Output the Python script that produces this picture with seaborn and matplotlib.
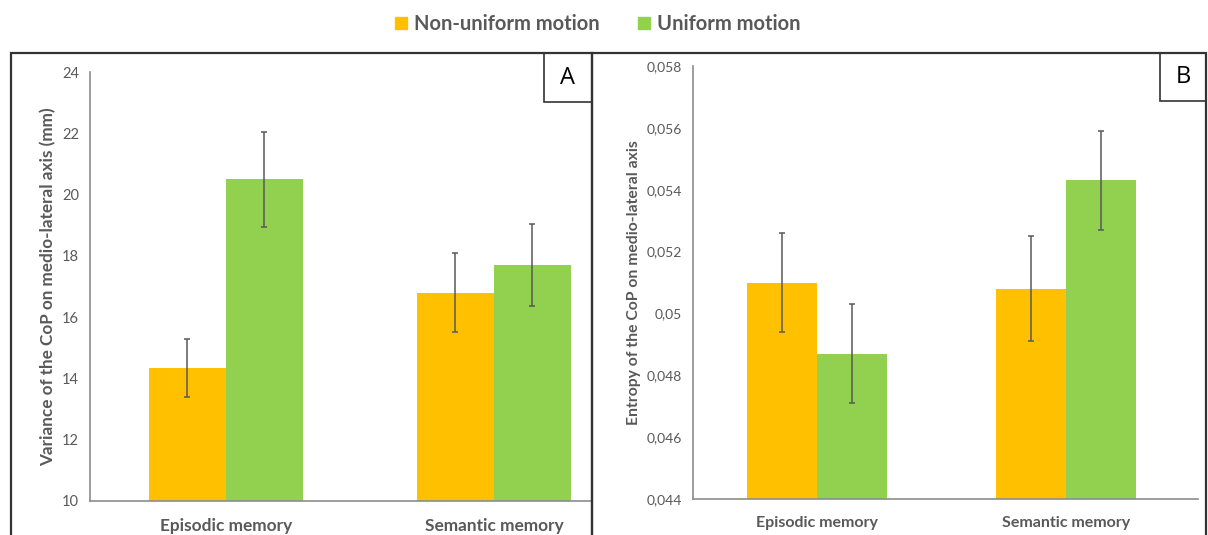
import matplotlib
matplotlib.use("Agg")
import matplotlib.pyplot as plt
from matplotlib.patches import Rectangle
from matplotlib.ticker import FuncFormatter
import seaborn as sns
import pandas as pd
import numpy as np

# data
memory = ["Episodic memory", "Semantic memory"]
motion = ["Non-uniform motion", "Uniform motion"]

variance_nonuniform = [14.35, 16.8]
variance_uniform = [20.5, 17.7]
variance_err_nonuniform = [0.95, 1.28]
variance_err_uniform = [1.55, 1.33]

entropy_nonuniform = [0.0510, 0.0508]
entropy_uniform = [0.0487, 0.0543]
entropy_err_nonuniform = [0.0016, 0.0017]
entropy_err_uniform = [0.0016, 0.0016]

colors = ["#FFC000", "#92D050"]
gray = "#595959"

sns.set_style("white")
plt.rcParams['font.family'] = ['Lato', 'DejaVu Sans']

W, H = 1208, 535
fig = plt.figure(figsize=(W / 100, H / 100), dpi=100)


def fig_rect(x0, y0, x1, y1):
    # pixel box (top-left origin) -> figure fraction
    return [x0 / W, 1 - y1 / H, (x1 - x0) / W, (y1 - y0) / H]


def make_df(nonuni, uni):
    rows = []
    for m, a, b in zip(memory, nonuni, uni):
        rows.append({"memory": m, "motion": motion[0], "value": a})
        rows.append({"memory": m, "motion": motion[1], "value": b})
    return pd.DataFrame(rows)


def draw_panel(ax, df, errs, ylim, yticks, xlim, width, ylabel, fmt,
               ylab_size, xlab_size, tick_size):
    sns.barplot(data=df, x="memory", y="value", hue="motion", hue_order=motion,
                palette=colors, errorbar=None, width=width, gap=0, legend=False,
                saturation=1, ax=ax, linewidth=0)
    for cont, err in zip(ax.containers, errs):
        xs = [p.get_x() + p.get_width() / 2 for p in cont]
        hs = [p.get_height() for p in cont]
        ax.errorbar(xs, hs, yerr=err, fmt="none", ecolor=gray, elinewidth=1.1,
                    capsize=2.5, capthick=1.1)
    ax.set_ylim(*ylim)
    ax.set_yticks(yticks)
    ax.set_xlim(*xlim)
    ax.yaxis.set_major_formatter(FuncFormatter(fmt))
    for s in ["top", "right"]:
        ax.spines[s].set_visible(False)
    for s in ["left", "bottom"]:
        ax.spines[s].set_color("#8c8c8c")
        ax.spines[s].set_linewidth(1.2)
    ax.tick_params(axis="y", direction="out", length=5, width=1, color="#8c8c8c",
                   labelcolor=gray, labelsize=tick_size, pad=3)
    ax.tick_params(axis="x", length=0, labelcolor=gray, labelsize=xlab_size, pad=12)
    for lab in ax.get_xticklabels():
        lab.set_fontweight("bold")
    ax.set_xlabel("")
    ax.set_ylabel(ylabel, color=gray, fontsize=ylab_size, fontweight="bold", labelpad=4)


# panel A
axA = fig.add_axes(fig_rect(90, 72, 592, 501))
draw_panel(axA, make_df(variance_nonuniform, variance_uniform),
           [variance_err_nonuniform, variance_err_uniform],
           (10, 24), np.arange(10, 25, 2), (-0.507, 1.366), 0.575,
           "Variance of the CoP on medio-lateral axis (mm)",
           lambda v, p: f"{v:g}", 12.3, 12.4, 10.5)

# panel B
axB = fig.add_axes(fig_rect(693, 66, 1198, 499))
draw_panel(axB, make_df(entropy_nonuniform, entropy_uniform),
           [entropy_err_nonuniform, entropy_err_uniform],
           (0.044, 0.058), np.arange(0.044, 0.0581, 0.002), (-0.498, 1.53), 0.562,
           "Entropy of the CoP on medio-lateral axis",
           lambda v, p: f"{v:g}".replace(".", ","), 11.3, 11.5, 10)

# panel frames and letter boxes
for x0, y0, x1, y1 in [(11, 53, 592, 540), (592, 53, 1206, 540)]:
    fig.patches.append(Rectangle((x0 / W, 1 - y1 / H), (x1 - x0) / W, (y1 - y0) / H,
                                 transform=fig.transFigure, fill=False,
                                 edgecolor="#333333", linewidth=1.6))
for letter, (x0, y0, x1, y1) in zip(["A", "B"], [(544, 53, 592, 102), (1160, 53, 1206, 101)]):
    fig.patches.append(Rectangle((x0 / W, 1 - y1 / H), (x1 - x0) / W, (y1 - y0) / H,
                                 transform=fig.transFigure, fill=False,
                                 edgecolor="#333333", linewidth=1.2))
    fig.text((x0 + x1) / 2 / W, 1 - (y0 + y1) / 2 / H, letter, ha="center", va="center",
             fontsize=17, color="black", family=["Open Sans", "DejaVu Sans"])

# legend at top
handles = [Rectangle((0, 0), 1, 1, color=c) for c in colors]
leg = fig.legend(handles, motion, loc="center", bbox_to_anchor=(598 / W, 1 - 24 / H),
                 ncol=2, frameon=False, handlelength=0.6, handleheight=0.6,
                 handletextpad=0.35, columnspacing=1.9,
                 prop={"size": 14.5, "weight": "bold"})
for t in leg.get_texts():
    t.set_color(gray)

fig.savefig("out.png", dpi=100)
